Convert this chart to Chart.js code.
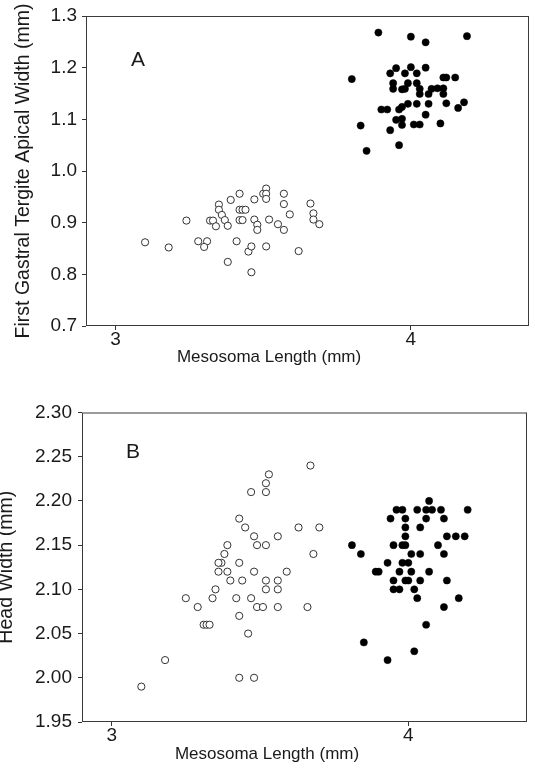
<!DOCTYPE html>
<html>
<head>
<meta charset="utf-8">
<script src="https://cdn.jsdelivr.net/npm/chart.js@4.4.1/dist/chart.umd.min.js"></script>
<style>
  html, body { margin: 0; padding: 0; background: #fff; overflow: hidden; }
  body { width: 535px; height: 768px; position: relative; }
  canvas { position: absolute; left: 0; }
  #chart-a { top: 0; }
  #chart-b { top: 390px; }
</style>
</head>
<body>
<canvas id="chart-a" width="535" height="380"></canvas>
<canvas id="chart-b" width="535" height="378"></canvas>
<script>
// Data
const xTicks = [3, 4];
const aTicks = [0.7, 0.8, 0.9, 1.0, 1.1, 1.2, 1.3];
const bTicks = [1.95, 2.00, 2.05, 2.10, 2.15, 2.20, 2.25, 2.30];

// Panel A - open circles
const aOpenX = [3.10, 3.18, 3.24, 3.28, 3.31, 3.30, 3.32, 3.33, 3.34, 3.35, 3.35, 3.36, 3.37, 3.38, 3.39, 3.42,
  3.41, 3.42, 3.43, 3.44, 3.42, 3.43, 3.38, 3.46, 3.45, 3.46, 3.47, 3.47, 3.48, 3.48, 3.50, 3.51, 3.51, 3.51,
  3.52, 3.51, 3.55, 3.57, 3.57, 3.59, 3.57, 3.62, 3.66, 3.67, 3.67, 3.69];
const aOpenY = [0.862, 0.852, 0.904, 0.864, 0.864, 0.853, 0.904, 0.904, 0.893, 0.935, 0.925, 0.915, 0.905, 0.894, 0.944, 0.956,
  0.864, 0.925, 0.925, 0.925, 0.905, 0.905, 0.824, 0.804, 0.844, 0.854, 0.945, 0.906, 0.896, 0.886, 0.956, 0.966, 0.956, 0.946,
  0.906, 0.854, 0.897, 0.956, 0.936, 0.916, 0.886, 0.845, 0.937, 0.918, 0.906, 0.897];

// Panel A - filled circles
const aFilledX = [3.89, 4.00, 4.05, 4.19, 3.80, 3.95, 3.93, 3.98, 4.00, 4.02, 4.05, 3.94, 3.94, 3.97, 3.99, 3.98,
  4.02, 4.03, 4.03, 4.06, 4.07, 4.09, 4.11, 4.11, 4.11, 4.12, 4.15, 3.90, 3.92, 3.96, 3.97, 3.99, 4.02, 4.06,
  4.12, 4.16, 4.18, 3.95, 3.97, 3.97, 4.01, 4.03, 4.05, 4.10, 3.83, 3.93, 3.96, 3.85];
const aFilledY = [1.268, 1.260, 1.249, 1.261, 1.178, 1.199, 1.189, 1.189, 1.201, 1.189, 1.200, 1.170, 1.159, 1.158, 1.170, 1.159,
  1.170, 1.159, 1.149, 1.149, 1.159, 1.160, 1.160, 1.149, 1.181, 1.181, 1.181, 1.119, 1.119, 1.119, 1.124, 1.130, 1.130, 1.130,
  1.131, 1.122, 1.133, 1.099, 1.101, 1.089, 1.090, 1.090, 1.109, 1.092, 1.088, 1.079, 1.050, 1.039];

// Panel B - open circles
const bOpenX = [3.10, 3.18, 3.25, 3.29, 3.31, 3.32, 3.33, 3.34, 3.35, 3.36, 3.37, 3.36, 3.38, 3.39, 3.39, 3.40,
  3.42, 3.43, 3.43, 3.44, 3.43, 3.45, 3.43, 3.46, 3.47, 3.47, 3.48, 3.48, 3.49, 3.49, 3.48, 3.51, 3.52, 3.52,
  3.52, 3.52, 3.52, 3.53, 3.67, 3.63, 3.70, 3.56, 3.68, 3.59, 3.56, 3.56, 3.56, 3.66];
const bOpenY = [1.99, 2.02, 2.09, 2.08, 2.06, 2.06, 2.06, 2.09, 2.10, 2.12, 2.13, 2.13, 2.14, 2.15, 2.12, 2.11,
  2.09, 2.07, 2.13, 2.11, 2.18, 2.17, 2.00, 2.05, 2.09, 2.21, 2.12, 2.16, 2.15, 2.08, 2.00, 2.08, 2.15, 2.11,
  2.10, 2.22, 2.21, 2.23, 2.24, 2.17, 2.17, 2.16, 2.14, 2.12, 2.11, 2.10, 2.08, 2.08];

// Panel B - filled circles
const bFilledX = [4.07, 3.96, 3.98, 4.03, 4.06, 4.08, 4.11, 4.20, 3.94, 3.99, 4.06, 4.12, 3.99, 4.04, 3.99, 4.13,
  4.16, 4.19, 3.81, 3.95, 3.98, 3.99, 4.10, 3.84, 4.01, 4.04, 4.12, 3.93, 3.98, 4.00, 3.89, 3.90, 3.97, 4.01,
  4.07, 3.95, 3.99, 4.00, 4.04, 4.13, 3.95, 3.97, 4.02, 4.03, 4.17, 4.12, 4.06, 3.85, 4.02, 3.93];
const bFilledY = [2.20, 2.19, 2.19, 2.19, 2.19, 2.19, 2.19, 2.19, 2.18, 2.18, 2.18, 2.18, 2.17, 2.17, 2.16, 2.16,
  2.16, 2.16, 2.15, 2.15, 2.15, 2.15, 2.15, 2.14, 2.14, 2.14, 2.14, 2.13, 2.13, 2.13, 2.12, 2.12, 2.12, 2.12,
  2.12, 2.11, 2.11, 2.11, 2.11, 2.11, 2.10, 2.10, 2.10, 2.09, 2.09, 2.08, 2.06, 2.04, 2.03, 2.02];

const FONT = '"Liberation Sans", Arial, sans-serif';
const INK = '#1a1a1a';

function toPoints(xs, ys) {
  return xs.map((x, i) => ({ x: x, y: ys[i] }));
}

// box round the plot, x axis title and panel letter
const panelDecor = {
  id: 'panelDecor',
  afterDraw(chart, args, opts) {
    const { ctx, chartArea: a } = chart;
    ctx.save();
    ctx.strokeStyle = '#3a3a3a';
    ctx.lineWidth = 1;
    ctx.strokeRect(a.left + 0.5, a.top + 0.5, a.right - a.left - 1, a.bottom - a.top - 1);
    ctx.fillStyle = INK;
    ctx.textAlign = 'center';
    ctx.textBaseline = 'middle';
    ctx.font = '17px ' + FONT;
    ctx.fillText(opts.xTitle, opts.xTitleX, opts.xTitleY);
    ctx.font = '21px ' + FONT;
    ctx.fillText(opts.letter, opts.letterX, opts.letterY);
    ctx.restore();
  }
};

function makeChart(id, p) {
  const ctx = document.getElementById(id).getContext('2d');
  return new Chart(ctx, {
    type: 'scatter',
    data: {
      datasets: [
        {
          data: toPoints(p.openX, p.openY),
          pointStyle: 'circle',
          pointRadius: 3.6,
          pointBorderWidth: 1,
          pointBorderColor: '#333',
          pointBackgroundColor: '#fff'
        },
        {
          data: toPoints(p.filledX, p.filledY),
          pointStyle: 'circle',
          pointRadius: 3.6,
          pointBorderWidth: 0.5,
          pointBorderColor: '#000',
          pointBackgroundColor: '#000'
        }
      ]
    },
    options: {
      responsive: false,
      animation: false,
      devicePixelRatio: 1,
      layout: { padding: { top: p.padTop, right: p.padRight, left: 0, bottom: 0 } },
      plugins: {
        legend: { display: false },
        tooltip: { enabled: false },
        panelDecor: {
          xTitle: 'Mesosoma Length (mm)',
          xTitleX: p.xTitleX,
          xTitleY: p.xTitleY,
          letter: p.letter,
          letterX: p.letterX,
          letterY: p.letterY
        }
      },
      scales: {
        x: {
          type: 'linear',
          min: 2.9,
          max: 4.4,
          afterBuildTicks: (s) => { s.ticks = xTicks.map(v => ({ value: v })); },
          afterFit: (s) => { s.height = p.xHeight; },
          border: { display: false },
          grid: { drawOnChartArea: false, drawTicks: true, tickLength: 4, color: '#333' },
          ticks: {
            color: INK,
            padding: 0,
            maxRotation: 0,
            font: { family: FONT, size: 19, lineHeight: 1 },
            callback: (v) => String(v)
          }
        },
        y: {
          type: 'linear',
          min: p.yMin,
          max: p.yMax,
          afterBuildTicks: (s) => { s.ticks = p.yTicks.map(v => ({ value: v })); },
          afterFit: (s) => { s.width = p.yWidth; },
          border: { display: false },
          grid: { drawOnChartArea: false, drawTicks: true, tickLength: 4, color: '#333' },
          ticks: {
            color: INK,
            padding: p.yTickPad,
            font: { family: FONT, size: 19, lineHeight: 1 },
            callback: (v) => Number(v).toFixed(p.decimals)
          },
          title: {
            display: true,
            text: p.yTitle,
            color: INK,
            font: { family: FONT, size: 19.5, lineHeight: 1 },
            padding: { top: p.yTitlePad, bottom: 0 }
          }
        }
      }
    },
    plugins: [panelDecor]
  });
}

makeChart('chart-a', {
  openX: aOpenX, openY: aOpenY, filledX: aFilledX, filledY: aFilledY,
  yMin: 0.7, yMax: 1.3, yTicks: aTicks, decimals: 1,
  yTitle: 'First Gastral Tergite Apical Width (mm)',
  padTop: 16, padRight: 6, xHeight: 54, yWidth: 86, yTickPad: 5, yTitlePad: 13.5,
  xTitleX: 269, xTitleY: 357, letter: 'A', letterX: 138, letterY: 60
});

makeChart('chart-b', {
  openX: bOpenX, openY: bOpenY, filledX: bFilledX, filledY: bFilledY,
  yMin: 1.95, yMax: 2.30, yTicks: bTicks, decimals: 2,
  yTitle: 'Head Width (mm)',
  padTop: 22.5, padRight: 8, xHeight: 46, yWidth: 82, yTickPad: 6, yTitlePad: -3.5,
  xTitleX: 267, xTitleY: 364, letter: 'B', letterX: 133, letterY: 62
});
</script>
</body>
</html>
